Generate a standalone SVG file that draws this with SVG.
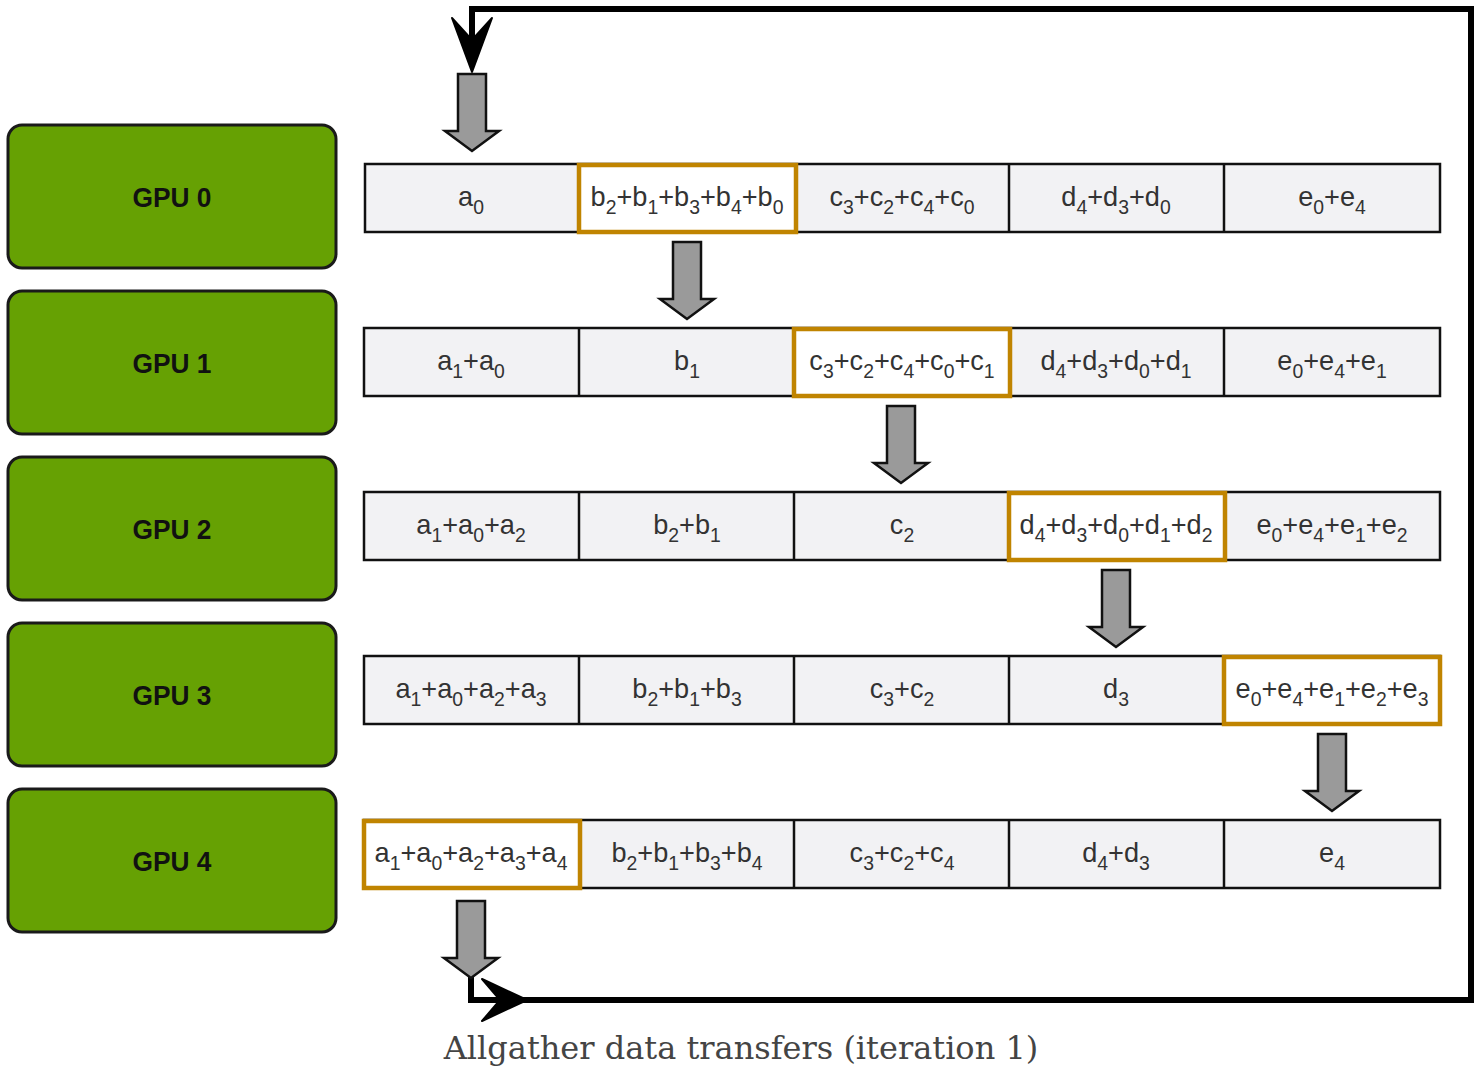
<svg xmlns="http://www.w3.org/2000/svg" width="1484" height="1070" viewBox="0 0 1484 1070">
<style>
.gpu rect{fill:#66a103;stroke:#1a1a1a;stroke-width:3}
.gpu text{font-family:"Liberation Sans",Arial,sans-serif;font-weight:bold;font-size:28px;fill:#111;text-anchor:middle}
.strip{fill:#f2f2f4;stroke:#111;stroke-width:2.5}
.div{stroke:#111;stroke-width:2.5}
.hl{fill:#fff;stroke:#c08400;stroke-width:4.5}
.cell{font-family:"Liberation Sans",Arial,sans-serif;font-size:28px;fill:#333;text-anchor:middle}
.cell tspan.s{font-size:20px}
.ga{fill:#9a9a9a;stroke:#111;stroke-width:2.5;stroke-linejoin:miter}
.conn{fill:none;stroke:#000;stroke-width:6;stroke-linejoin:miter}
.cap{font-family:"DejaVu Serif",serif;font-size:32px;fill:#444;text-anchor:middle}
</style>
<defs>
<path id="garrow" class="ga" d="M-14,0 H14 V57 H27 L0,77 L-27,57 H-14 Z"/>
</defs>

<g id="gpu0" class="gpu"><rect x="8" y="125" width="328" height="143" rx="14"/><text x="172" y="207" transform="translate(172,0) scale(0.94,1) translate(-172,0)">GPU 0</text></g>
<g id="gpu1" class="gpu"><rect x="8" y="291" width="328" height="143" rx="14"/><text x="172" y="373" transform="translate(172,0) scale(0.94,1) translate(-172,0)">GPU 1</text></g>
<g id="gpu2" class="gpu"><rect x="8" y="457" width="328" height="143" rx="14"/><text x="172" y="539" transform="translate(172,0) scale(0.94,1) translate(-172,0)">GPU 2</text></g>
<g id="gpu3" class="gpu"><rect x="8" y="623" width="328" height="143" rx="14"/><text x="172" y="705" transform="translate(172,0) scale(0.94,1) translate(-172,0)">GPU 3</text></g>
<g id="gpu4" class="gpu"><rect x="8" y="789" width="328" height="143" rx="14"/><text x="172" y="871" transform="translate(172,0) scale(0.94,1) translate(-172,0)">GPU 4</text></g>

<!-- Row 0 -->
<g id="row0">
<rect class="strip" x="365" y="164" width="1075" height="68"/>
<line class="div" x1="1009" y1="164" x2="1009" y2="232"/>
<line class="div" x1="1224" y1="164" x2="1224" y2="232"/>
<rect class="hl" x="579" y="165" width="217" height="67"/>
<g class="cell">
<text transform="translate(471,206) scale(0.97,1)">a<tspan class="s" dy="8">0</tspan></text>
<text transform="translate(687,206) scale(0.97,1)">b<tspan class="s" dy="8">2</tspan><tspan dy="-8">+b</tspan><tspan class="s" dy="8">1</tspan><tspan dy="-8">+b</tspan><tspan class="s" dy="8">3</tspan><tspan dy="-8">+b</tspan><tspan class="s" dy="8">4</tspan><tspan dy="-8">+b</tspan><tspan class="s" dy="8">0</tspan></text>
<text transform="translate(902,206) scale(0.97,1)">c<tspan class="s" dy="8">3</tspan><tspan dy="-8">+c</tspan><tspan class="s" dy="8">2</tspan><tspan dy="-8">+c</tspan><tspan class="s" dy="8">4</tspan><tspan dy="-8">+c</tspan><tspan class="s" dy="8">0</tspan></text>
<text transform="translate(1116,206) scale(0.97,1)">d<tspan class="s" dy="8">4</tspan><tspan dy="-8">+d</tspan><tspan class="s" dy="8">3</tspan><tspan dy="-8">+d</tspan><tspan class="s" dy="8">0</tspan></text>
<text transform="translate(1332,206) scale(0.97,1)">e<tspan class="s" dy="8">0</tspan><tspan dy="-8">+e</tspan><tspan class="s" dy="8">4</tspan></text>
</g>
</g>

<!-- Row 1 -->
<g id="row1">
<rect class="strip" x="364" y="328" width="1076" height="68"/>
<line class="div" x1="579" y1="328" x2="579" y2="396"/>
<line class="div" x1="1224" y1="328" x2="1224" y2="396"/>
<rect class="hl" x="794" y="329" width="216" height="67"/>
<g class="cell">
<text transform="translate(471,370) scale(0.97,1)">a<tspan class="s" dy="8">1</tspan><tspan dy="-8">+a</tspan><tspan class="s" dy="8">0</tspan></text>
<text transform="translate(687,370) scale(0.97,1)">b<tspan class="s" dy="8">1</tspan></text>
<text transform="translate(902,370) scale(0.97,1)">c<tspan class="s" dy="8">3</tspan><tspan dy="-8">+c</tspan><tspan class="s" dy="8">2</tspan><tspan dy="-8">+c</tspan><tspan class="s" dy="8">4</tspan><tspan dy="-8">+c</tspan><tspan class="s" dy="8">0</tspan><tspan dy="-8">+c</tspan><tspan class="s" dy="8">1</tspan></text>
<text transform="translate(1116,370) scale(0.97,1)">d<tspan class="s" dy="8">4</tspan><tspan dy="-8">+d</tspan><tspan class="s" dy="8">3</tspan><tspan dy="-8">+d</tspan><tspan class="s" dy="8">0</tspan><tspan dy="-8">+d</tspan><tspan class="s" dy="8">1</tspan></text>
<text transform="translate(1332,370) scale(0.97,1)">e<tspan class="s" dy="8">0</tspan><tspan dy="-8">+e</tspan><tspan class="s" dy="8">4</tspan><tspan dy="-8">+e</tspan><tspan class="s" dy="8">1</tspan></text>
</g>
</g>

<!-- Row 2 -->
<g id="row2">
<rect class="strip" x="364" y="492" width="1076" height="68"/>
<line class="div" x1="579" y1="492" x2="579" y2="560"/>
<line class="div" x1="794" y1="492" x2="794" y2="560"/>
<rect class="hl" x="1009" y="493" width="216" height="67"/>
<g class="cell">
<text transform="translate(471,534) scale(0.97,1)">a<tspan class="s" dy="8">1</tspan><tspan dy="-8">+a</tspan><tspan class="s" dy="8">0</tspan><tspan dy="-8">+a</tspan><tspan class="s" dy="8">2</tspan></text>
<text transform="translate(687,534) scale(0.97,1)">b<tspan class="s" dy="8">2</tspan><tspan dy="-8">+b</tspan><tspan class="s" dy="8">1</tspan></text>
<text transform="translate(902,534) scale(0.97,1)">c<tspan class="s" dy="8">2</tspan></text>
<text transform="translate(1116,534) scale(0.97,1)">d<tspan class="s" dy="8">4</tspan><tspan dy="-8">+d</tspan><tspan class="s" dy="8">3</tspan><tspan dy="-8">+d</tspan><tspan class="s" dy="8">0</tspan><tspan dy="-8">+d</tspan><tspan class="s" dy="8">1</tspan><tspan dy="-8">+d</tspan><tspan class="s" dy="8">2</tspan></text>
<text transform="translate(1332,534) scale(0.97,1)">e<tspan class="s" dy="8">0</tspan><tspan dy="-8">+e</tspan><tspan class="s" dy="8">4</tspan><tspan dy="-8">+e</tspan><tspan class="s" dy="8">1</tspan><tspan dy="-8">+e</tspan><tspan class="s" dy="8">2</tspan></text>
</g>
</g>

<!-- Row 3 -->
<g id="row3">
<rect class="strip" x="364" y="656" width="1076" height="68"/>
<line class="div" x1="579" y1="656" x2="579" y2="724"/>
<line class="div" x1="794" y1="656" x2="794" y2="724"/>
<line class="div" x1="1009" y1="656" x2="1009" y2="724"/>
<rect class="hl" x="1224" y="657" width="216" height="67"/>
<g class="cell">
<text transform="translate(471,698) scale(0.97,1)">a<tspan class="s" dy="8">1</tspan><tspan dy="-8">+a</tspan><tspan class="s" dy="8">0</tspan><tspan dy="-8">+a</tspan><tspan class="s" dy="8">2</tspan><tspan dy="-8">+a</tspan><tspan class="s" dy="8">3</tspan></text>
<text transform="translate(687,698) scale(0.97,1)">b<tspan class="s" dy="8">2</tspan><tspan dy="-8">+b</tspan><tspan class="s" dy="8">1</tspan><tspan dy="-8">+b</tspan><tspan class="s" dy="8">3</tspan></text>
<text transform="translate(902,698) scale(0.97,1)">c<tspan class="s" dy="8">3</tspan><tspan dy="-8">+c</tspan><tspan class="s" dy="8">2</tspan></text>
<text transform="translate(1116,698) scale(0.97,1)">d<tspan class="s" dy="8">3</tspan></text>
<text transform="translate(1332,698) scale(0.97,1)">e<tspan class="s" dy="8">0</tspan><tspan dy="-8">+e</tspan><tspan class="s" dy="8">4</tspan><tspan dy="-8">+e</tspan><tspan class="s" dy="8">1</tspan><tspan dy="-8">+e</tspan><tspan class="s" dy="8">2</tspan><tspan dy="-8">+e</tspan><tspan class="s" dy="8">3</tspan></text>
</g>
</g>

<!-- Row 4 -->
<g id="row4">
<rect class="strip" x="364" y="820" width="1076" height="68"/>
<line class="div" x1="794" y1="820" x2="794" y2="888"/>
<line class="div" x1="1009" y1="820" x2="1009" y2="888"/>
<line class="div" x1="1224" y1="820" x2="1224" y2="888"/>
<rect class="hl" x="364" y="821" width="216" height="67"/>
<g class="cell">
<text transform="translate(471,862) scale(0.97,1)">a<tspan class="s" dy="8">1</tspan><tspan dy="-8">+a</tspan><tspan class="s" dy="8">0</tspan><tspan dy="-8">+a</tspan><tspan class="s" dy="8">2</tspan><tspan dy="-8">+a</tspan><tspan class="s" dy="8">3</tspan><tspan dy="-8">+a</tspan><tspan class="s" dy="8">4</tspan></text>
<text transform="translate(687,862) scale(0.97,1)">b<tspan class="s" dy="8">2</tspan><tspan dy="-8">+b</tspan><tspan class="s" dy="8">1</tspan><tspan dy="-8">+b</tspan><tspan class="s" dy="8">3</tspan><tspan dy="-8">+b</tspan><tspan class="s" dy="8">4</tspan></text>
<text transform="translate(902,862) scale(0.97,1)">c<tspan class="s" dy="8">3</tspan><tspan dy="-8">+c</tspan><tspan class="s" dy="8">2</tspan><tspan dy="-8">+c</tspan><tspan class="s" dy="8">4</tspan></text>
<text transform="translate(1116,862) scale(0.97,1)">d<tspan class="s" dy="8">4</tspan><tspan dy="-8">+d</tspan><tspan class="s" dy="8">3</tspan></text>
<text transform="translate(1332,862) scale(0.97,1)">e<tspan class="s" dy="8">4</tspan></text>
</g>
</g>

<g id="connectors">
<path class="conn" d="M471,976 V1000 H1471 V9 H472 V45"/>
<polygon points="472,72 452,18 472,40 492,18" fill="#000" stroke="#000" stroke-width="2" stroke-linejoin="round"/>
<polygon points="527,1000 482,979 500,1000 482,1021" fill="#000" stroke="#000" stroke-width="2" stroke-linejoin="round"/>
<use href="#garrow" transform="translate(472,74)"/>
<use href="#garrow" transform="translate(687,242)"/>
<use href="#garrow" transform="translate(901,406)"/>
<use href="#garrow" transform="translate(1116,570)"/>
<use href="#garrow" transform="translate(1332,734)"/>
<use href="#garrow" transform="translate(471,901)"/>
</g>

<text class="cap" x="741" y="1059">Allgather data transfers (iteration 1)</text>
</svg>
